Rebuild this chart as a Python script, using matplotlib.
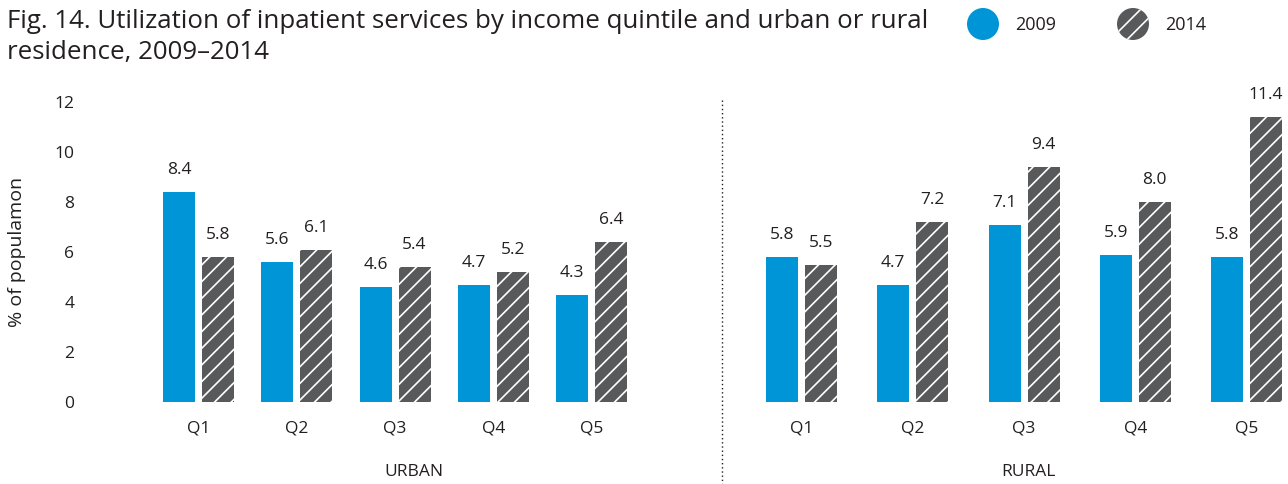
import matplotlib
matplotlib.use("Agg")
import matplotlib.pyplot as plt
from matplotlib.patches import Ellipse
from matplotlib.lines import Line2D
import numpy as np

plt.rcParams['font.family'] = ['Open Sans', 'DejaVu Sans']
plt.rcParams['hatch.linewidth'] = 1.2
plt.rcParams['hatch.color'] = 'white'

quintiles = ["Q1", "Q2", "Q3", "Q4", "Q5"]
urban_2009 = [8.4, 5.6, 4.6, 4.7, 4.3]
urban_2014 = [5.8, 6.1, 5.4, 5.2, 6.4]
rural_2009 = [5.8, 4.7, 7.1, 5.9, 5.8]
rural_2014 = [5.5, 7.2, 9.4, 8.0, 11.4]
yticks = [0, 2, 4, 6, 8, 10, 12]
series_labels = ["2009", "2014"]
group_labels = ["URBAN", "RURAL"]

BLUE = "#0095d6"
GRAY = "#58595b"
TXT = "#231f20"
FS = 12.5

W, H = 1288, 484
fig = plt.figure(figsize=(W / 100, H / 100), dpi=100)

def fx(px):
    return px / W

def fy(py):
    return 1 - py / H

ax_bottom = fy(402)
ax_h = fy(102) - fy(402)

# urban axes: pixel 120..722 ; rural: 722..1288
axU = fig.add_axes([fx(120), ax_bottom, fx(722 - 120), ax_h])
axR = fig.add_axes([fx(722), ax_bottom, fx(1288 - 722), ax_h])

def draw(ax, v09, v14, xmin_px, xmax_px, c0_px, step_px):
    x = np.arange(len(quintiles))
    bw = 32 / step_px
    off = 19.5 / step_px
    ax.set_xlim((xmin_px - c0_px) / step_px, (xmax_px - c0_px) / step_px)
    ax.set_ylim(0, 12)
    b1 = ax.bar(x - off, v09, width=bw, color=BLUE, linewidth=0)
    b2 = ax.bar(x + off, v14, width=bw, color=GRAY, edgecolor='white',
                linewidth=0, hatch='//')
    for rects, vals in ((b1, v09), (b2, v14)):
        for r, v in zip(rects, vals):
            ax.annotate(f"{v:.1f}", (r.get_x() + r.get_width() / 2, v),
                        xytext=(0, 10), textcoords='offset points',
                        ha='center', va='bottom', fontsize=FS, color=TXT,
                        annotation_clip=False)
    ax.set_xticks(x)
    ax.set_xticklabels(quintiles, fontsize=FS, color=TXT)
    ax.tick_params(axis='x', length=0, pad=13)
    for s in ax.spines.values():
        s.set_visible(False)
    ax.patch.set_alpha(0)

draw(axU, urban_2009, urban_2014, 120, 722, 198.5, 98.25)
draw(axR, rural_2009, rural_2014, 722, 1288, 801.5, 111.25)

axU.set_yticks(yticks)
axU.set_yticklabels([str(t) for t in yticks], fontsize=FS, color=TXT)
axU.tick_params(axis='y', length=0, pad=33)
axR.set_yticks([])

fig.text(fx(17), fy(252), "% of populamon", rotation=90, ha='center',
         va='center', fontsize=14, color=TXT)

fig.text(fx(414), fy(472), group_labels[0], ha='center', va='center',
         fontsize=FS, color=TXT)
fig.text(fx(1028), fy(472), group_labels[1], ha='center', va='center',
         fontsize=FS, color=TXT)

fig.add_artist(Line2D([fx(722), fx(722)], [fy(100), fy(484)],
                      transform=fig.transFigure, color='#231f20',
                      linestyle=(0, (1, 2)), linewidth=1))

fig.text(fx(7), fy(22), "Fig. 14. Utilization of inpatient services by income quintile and urban or rural",
         ha='left', va='center', fontsize=18.6, color=TXT)
fig.text(fx(7), fy(52), "residence, 2009\u20132014",
         ha='left', va='center', fontsize=18.6, color=TXT)

# legend
fig.add_artist(Ellipse((fx(983), fy(24)), 32 / W, 32 / H,
                       transform=fig.transFigure, facecolor=BLUE, linewidth=0))
fig.add_artist(Ellipse((fx(1133), fy(24)), 32 / W, 32 / H,
                       transform=fig.transFigure, facecolor=GRAY,
                       edgecolor='white', linewidth=0, hatch='//'))
fig.text(fx(1015), fy(25), series_labels[0], ha='left', va='center',
         fontsize=13, color=TXT)
fig.text(fx(1165), fy(25), series_labels[1], ha='left', va='center',
         fontsize=13, color=TXT)

fig.savefig("out.png", dpi=100)
